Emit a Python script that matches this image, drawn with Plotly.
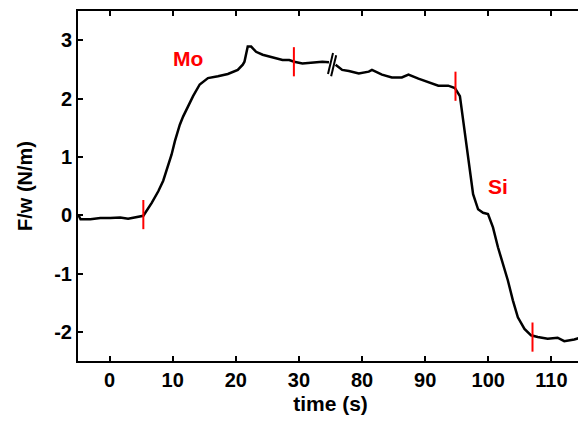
import plotly.graph_objects as go

# 断轴: 30-80 s 之间被压缩 (显示坐标 = t, t>50 时为 t-40)
BREAK_SHIFT = 40

# 左段 (Mo)
t_left = [-4.93, -4.6, -3.04, -1.46, 0.11, 1.69, 2.94, 4.05, 5.35, 6.68, 7.72, 8.50,
          9.29, 9.83, 10.35, 11.13, 11.65, 12.44, 13.23, 14.28, 15.59, 17.17, 18.74,
          20.31, 21.10, 21.37, 21.89, 22.43, 23.21, 24.25, 25.31, 26.36, 27.40, 28.46,
          29.24, 30.55, 32.13, 33.70, 34.76]
f_left = [0.00, -0.07, -0.07, -0.05, -0.05, -0.04, -0.06, -0.04, -0.01, 0.21, 0.41, 0.59,
          0.87, 1.04, 1.27, 1.55, 1.69, 1.87, 2.04, 2.24, 2.35, 2.38, 2.42,
          2.49, 2.58, 2.63, 2.89, 2.89, 2.80, 2.75, 2.72, 2.69, 2.66, 2.66,
          2.63, 2.60, 2.62, 2.63, 2.62]

# 右段 (Si)
t_right = [75.81, 76.85, 77.91, 79.48, 81.06, 81.57, 83.15, 84.72, 86.30, 87.35, 88.93,
           90.50, 92.08, 93.65, 94.71, 95.50, 96.02, 96.54, 97.07, 97.59, 98.38, 99.17,
           99.95, 100.74, 101.53, 102.32, 103.10, 103.89, 104.68, 105.73, 106.77,
           107.83, 109.40, 110.98, 112.03, 113.61, 114.91]
f_right = [2.58, 2.49, 2.47, 2.43, 2.46, 2.49, 2.41, 2.36, 2.36, 2.41, 2.34,
           2.28, 2.22, 2.22, 2.18, 2.04, 1.61, 1.15, 0.76, 0.36, 0.10, 0.04,
           0.02, -0.21, -0.55, -0.84, -1.12, -1.46, -1.75, -1.95, -2.06,
           -2.09, -2.12, -2.10, -2.16, -2.13, -2.09]

# 红色标记 (时间, 中心值)
mark_t = [5.35, 29.2, 94.8, 107.0]
mark_f = [0.01, 2.63, 2.21, -2.09]
mark_half = 0.25

tick_times = [0, 10, 20, 30, 80, 90, 100, 110]

FONT = 'Liberation Sans'


def disp(t):
    return t if t < 50 else t - BREAK_SHIFT


fig = go.Figure()

fig.add_trace(go.Scatter(
    x=[disp(t) for t in t_left] + [None] + [disp(t) for t in t_right],
    y=f_left + [None] + f_right,
    mode='lines',
    line=dict(color='black', width=2.5),
    showlegend=False
))

# 红色竖线
mx, my = [], []
for t, f in zip(mark_t, mark_f):
    mx += [disp(t), disp(t), None]
    my += [f - mark_half, f + mark_half, None]
fig.add_trace(go.Scatter(x=mx, y=my, mode='lines',
                         line=dict(color='red', width=2), showlegend=False))

# 断轴标记 //
fig.add_trace(go.Scatter(
    x=[34.6, 35.4, None, 35.1, 35.9],
    y=[2.42, 2.78, None, 2.38, 2.74],
    mode='lines', line=dict(color='black', width=2), showlegend=False
))

fig.add_annotation(x=12.4, y=2.68, text='Mo', showarrow=False,
                   font=dict(color='red', size=21, family=FONT, weight='bold'))
fig.add_annotation(x=61.5, y=0.5, text='Si', showarrow=False,
                   font=dict(color='red', size=21, family=FONT, weight='bold'))

axis_style = dict(
    showline=True, linecolor='black', linewidth=2, mirror='ticks',
    ticks='inside', ticklen=5, tickwidth=2, tickcolor='black',
    showgrid=False, zeroline=False,
    tickfont=dict(size=20, family=FONT, color='black', weight='bold'),
)

fig.update_xaxes(
    range=[-5, 75],
    tickvals=[disp(t) for t in tick_times],
    ticktext=[str(t) for t in tick_times],
    title=dict(text='time (s)', standoff=6,
               font=dict(size=21, family=FONT, color='black', weight='bold')),
    **axis_style
)
fig.update_yaxes(
    range=[-2.5, 3.5],
    tickvals=[-2, -1, 0, 1, 2, 3],
    ticktext=['-2', '-1', '0', '1', '2', '3'],
    title=dict(text='F/w (N/m)', standoff=16,
               font=dict(size=20, family=FONT, color='black', weight='bold')),
    **axis_style
)

# 页面 body 默认有 8px 边距
fig.update_layout(
    width=578, height=420,
    margin=dict(l=70, r=1, t=1, b=67),
    plot_bgcolor='white', paper_bgcolor='white',
)

fig.write_html("out.html")
